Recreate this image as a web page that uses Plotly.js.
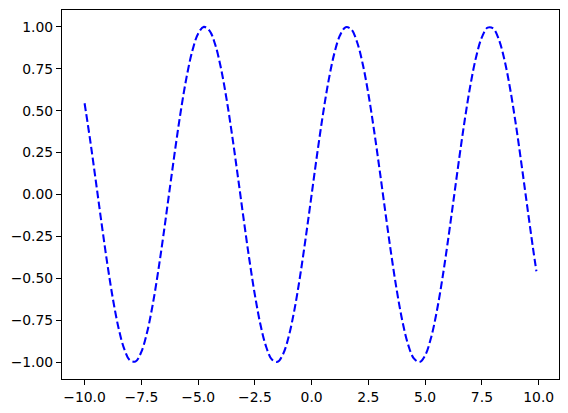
<!DOCTYPE html>
<html><head><meta charset="utf-8">
<script src="https://cdn.plot.ly/plotly-3.0.1.min.js"></script>
<style>html,body{margin:0;padding:0;background:#fff}#c{width:568px;height:413px}</style>
</head><body><div id="c"></div>
<script>
const xVals = [-10,-9.75,-9.5,-9.25,-9,-8.75,-8.5,-8.25,-8,-7.75,-7.5,-7.25,-7,-6.75,-6.5,-6.25,-6,-5.75,-5.5,-5.25,-5,-4.75,-4.5,-4.25,-4,-3.75,-3.5,-3.25,-3,-2.75,-2.5,-2.25,-2,-1.75,-1.5,-1.25,-1,-0.75,-0.5,-0.25,0,0.25,0.5,0.75,1,1.25,1.5,1.75,2,2.25,2.5,2.75,3,3.25,3.5,3.75,4,4.25,4.5,4.75,5,5.25,5.5,5.75,6,6.25,6.5,6.75,7,7.25,7.5,7.75,8,8.25,8.5,8.75,9,9.25,9.5,9.75,9.9];
const yVals = [0.5440,0.3195,0.0752,-0.1739,-0.4121,-0.6247,-0.7985,-0.9224,-0.9894,-0.9946,-0.9380,-0.8233,-0.6570,-0.4500,-0.2151,0.0332,0.2794,0.5083,0.7055,0.8589,0.9589,0.9993,0.9775,0.8950,0.7568,0.5716,0.3508,0.1082,-0.1411,-0.3817,-0.5985,-0.7781,-0.9093,-0.9840,-0.9975,-0.9490,-0.8415,-0.6816,-0.4794,-0.2474,0,0.2474,0.4794,0.6816,0.8415,0.9490,0.9975,0.9840,0.9093,0.7781,0.5985,0.3817,0.1411,-0.1082,-0.3508,-0.5716,-0.7568,-0.8950,-0.9775,-0.9993,-0.9589,-0.8589,-0.7055,-0.5083,-0.2794,-0.0332,0.2151,0.4500,0.6570,0.8233,0.9380,0.9946,0.9894,0.9224,0.7985,0.6247,0.4121,0.1739,-0.0752,-0.3195,-0.4575];
const xTickVals = [-10,-7.5,-5,-2.5,0,2.5,5,7.5,10];
const xTickText = ["\u221210.0","\u22127.5","\u22125.0","\u22122.5","0.0","2.5","5.0","7.5","10.0"];
const yTickVals = [-1,-0.75,-0.5,-0.25,0,0.25,0.5,0.75,1];
const yTickText = ["\u22121.00","\u22120.75","\u22120.50","\u22120.25","0.00","0.25","0.50","0.75","1.00"];

const trace = {x:xVals, y:yVals, type:'scatter', mode:'lines',
  line:{color:'#0000ff', width:2.08, dash:'7.7px,3.33px', shape:'spline', smoothing:1}};
const axisCommon = {showgrid:false, zeroline:false, showline:true, mirror:true, linecolor:'#000', linewidth:1.1,
  ticks:'outside', ticklen:4.9, tickwidth:1.1, tickcolor:'#000', tickfont:{family:'DejaVu Sans', size:13.9, color:'#000'}, tickmode:'array'};
const layout = {
  width:568, height:413, margin:{l:62, r:9, t:10, b:34},
  paper_bgcolor:'#fff', plot_bgcolor:'#fff', showlegend:false,
  xaxis:Object.assign({}, axisCommon, {range:[-10.995,10.895], tickvals:xTickVals, ticktext:xTickText}),
  yaxis:Object.assign({}, axisCommon, {range:[-1.1,1.1], tickvals:yTickVals, ticktext:yTickText})
};
Plotly.newPlot('c',[trace],layout,{staticPlot:true, displayModeBar:false});
</script></body></html>
